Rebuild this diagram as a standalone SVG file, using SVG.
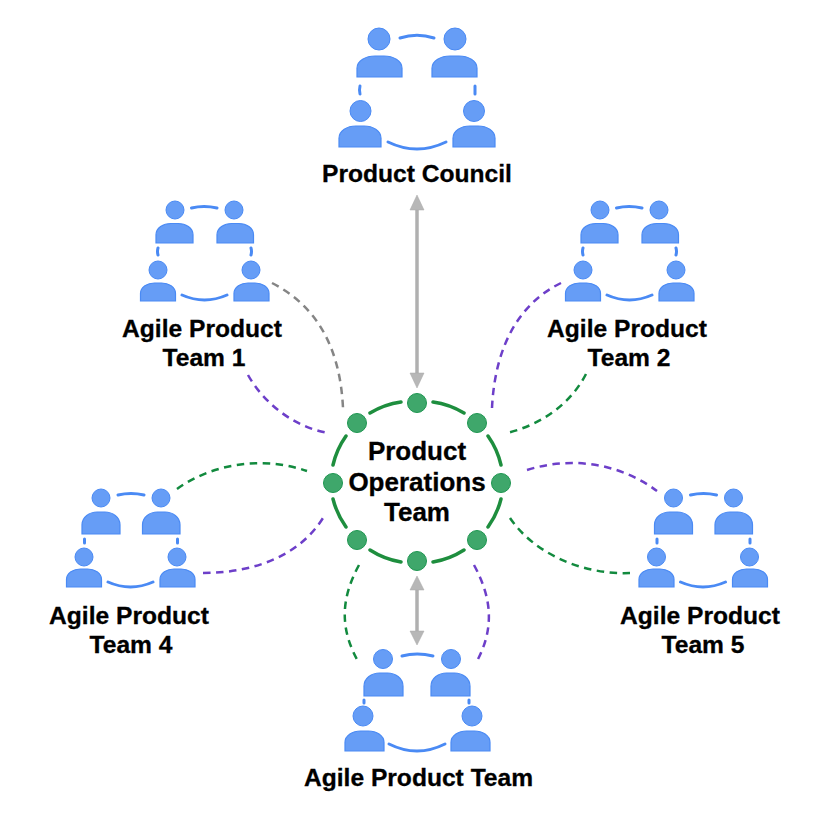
<svg xmlns="http://www.w3.org/2000/svg" width="834" height="834" viewBox="0 0 834 834">
<style>
.h{fill:#669df6;stroke:#4a8af4;stroke-width:1}
.b{fill:#669df6;stroke:#4a8af4;stroke-width:1.200;vector-effect:non-scaling-stroke}
.a{fill:none;stroke:#4a8af4;stroke-width:3;stroke-linecap:round}
.d{fill:#3fa76b;stroke:#1e9650;stroke-width:1}
.r{fill:none;stroke:#1e8e3e;stroke-width:3.500;stroke-linecap:round}
.t{font-family:"Liberation Sans",Arial,sans-serif;font-weight:700;font-size:24.600px;fill:#000;stroke:#000;stroke-width:.3;text-anchor:middle}
.o{font-size:26px}
.gd{fill:none;stroke:#858585;stroke-width:2.500;stroke-dasharray:7.500 5.500}
.pd{fill:none;stroke:#6d3fc9;stroke-width:2.500;stroke-dasharray:7.500 5.500}
.nd{fill:none;stroke:#128a3e;stroke-width:2.500;stroke-dasharray:7.500 5.500}
.ar{stroke:#b0b0b0;stroke-width:3.500;fill:none}
.ah{fill:#b7b7b7;stroke:#a8a8a8;stroke-width:.5}
</style>
<defs>
<path id="body" class="b" d="M0,1V.58C0,.22 .2,0 .4,0H.6C.8,0 1,.22 1,.58V1Z"/>
<g id="team">
<circle class="h" cx="175" cy="210" r="9"/><use href="#body" transform="translate(156,223.500) scale(37,19.500)"/>
<circle class="h" cx="234" cy="210" r="9"/><use href="#body" transform="translate(217,223.500) scale(36.500,19.500)"/>
<circle class="h" cx="158" cy="270" r="9"/><use href="#body" transform="translate(140.500,283) scale(35,18)"/>
<circle class="h" cx="251" cy="270" r="9"/><use href="#body" transform="translate(234,283) scale(35,18)"/>
<path class="a" d="M191.500,208Q204,205 217,208M158,248Q157,251.500 158,255M251,248Q252,251.500 251,255M182,295Q204.500,305 227,295"/>
</g>
<g id="teamLow">
<circle class="h" cx="101" cy="498" r="9"/><use href="#body" transform="translate(82,512) scale(38,22)"/>
<circle class="h" cx="161" cy="498" r="9"/><use href="#body" transform="translate(142.500,512) scale(37.500,22)"/>
<circle class="h" cx="84" cy="557" r="9"/><use href="#body" transform="translate(66.500,569) scale(35,18)"/>
<circle class="h" cx="177" cy="557" r="9"/><use href="#body" transform="translate(160,569) scale(35,18)"/>
<path class="a" d="M118,495Q131,492 144,495M84.500,539V543M177.500,539V543M108,582Q130.500,592 153,582"/>
</g>
</defs>
<g id="connectors">
<path class="ar" d="M417,208V375"/><path class="ah" d="M417,195L424,210H410Z"/><path class="ah" d="M417,388L424,373H410Z"/>
<path class="ar" d="M417,588V633"/><path class="ah" d="M417,576L424,590H410Z"/><path class="ah" d="M417,645L424,631H410Z"/>
<path class="gd" d="M272,283C315,305 340,345 343,408"/>
<path class="pd" d="M248,375C265,405 295,427 328,433"/>
<path class="pd" d="M561,283C520,303 495,345 492,408"/>
<path class="nd" d="M586,374C570,405 540,425 507,433"/>
<path class="nd" d="M177,489C210,465 260,455 307,471"/>
<path class="pd" d="M203,573C255,573 300,555 323,518"/>
<path class="pd" d="M527,470C575,455 622,465 657,491"/>
<path class="nd" d="M510,518C535,555 585,575 630,573"/>
<path class="nd" d="M359,565C340,600 340,630 359,663"/>
<path class="pd" d="M474,565C493,600 494,630 476,663"/>
</g>
<g id="council">
<circle class="h" cx="379" cy="39" r="11"/><use href="#body" transform="translate(357,56) scale(45,21)"/>
<circle class="h" cx="455" cy="39" r="11"/><use href="#body" transform="translate(432,56) scale(45,21)"/>
<circle class="h" cx="360.500" cy="111" r="10.500"/><use href="#body" transform="translate(339,126) scale(42,21)"/>
<circle class="h" cx="474" cy="111" r="10.500"/><use href="#body" transform="translate(453,126) scale(42,21)"/>
<path class="a" d="M400,38Q417,32.500 434,38M360,86Q359,90 360,94M475,86V94M388,142Q417,156 446,142"/>
<text class="t" x="417" y="182">Product Council</text>
</g>
<g id="team1"><use href="#team"/><text class="t" x="202" y="337">Agile Product</text><text class="t" x="204" y="366">Team 1</text></g>
<g id="team2"><use href="#team" x="425"/><text class="t" x="627" y="337">Agile Product</text><text class="t" x="629" y="366">Team 2</text></g>
<g id="team4"><use href="#teamLow"/><text class="t" x="129" y="624">Agile Product</text><text class="t" x="131" y="653">Team 4</text></g>
<g id="team5"><use href="#teamLow" x="572.500"/><text class="t" x="700" y="624">Agile Product</text><text class="t" x="703" y="653">Team 5</text></g>
<g id="teamBottom">
<circle class="h" cx="383" cy="659" r="9.500"/><use href="#body" transform="translate(364,673) scale(39,23)"/>
<circle class="h" cx="451" cy="659" r="9.500"/><use href="#body" transform="translate(431,673) scale(39,23)"/>
<circle class="h" cx="363" cy="716" r="10"/><use href="#body" transform="translate(345,731) scale(39,20)"/>
<circle class="h" cx="472" cy="716" r="10"/><use href="#body" transform="translate(451,731) scale(39,20)"/>
<path class="a" d="M402,656Q417,652 433,656M364,700V703M469,700V703M389,744Q417,758 445,744"/>
<text class="t" x="418.500" y="786">Agile Product Team</text>
</g>
<g id="ops">
<path class="r" d="M433,402A82,82 0 0 1 464,413M488,436A82,82 0 0 1 501,465M501,499A82,82 0 0 1 488,527M464,550A82,82 0 0 1 433,562M401,562A82,82 0 0 1 370,550M346,527A82,82 0 0 1 333,499M333,465A82,82 0 0 1 346,436M370,413A82,82 0 0 1 401,402"/>
<circle class="d" cx="417" cy="403" r="9.500"/><circle class="d" cx="477" cy="423" r="9.500"/><circle class="d" cx="501" cy="483" r="9.500"/><circle class="d" cx="477" cy="540" r="9.500"/><circle class="d" cx="417" cy="561" r="9.500"/><circle class="d" cx="357" cy="540" r="9.500"/><circle class="d" cx="333" cy="483" r="9.500"/><circle class="d" cx="357" cy="423" r="9.500"/>
<text class="t o" x="417" y="460">Product</text><text class="t o" x="417" y="490.500">Operations</text><text class="t o" x="417" y="520.500">Team</text>
</g>
</svg>
